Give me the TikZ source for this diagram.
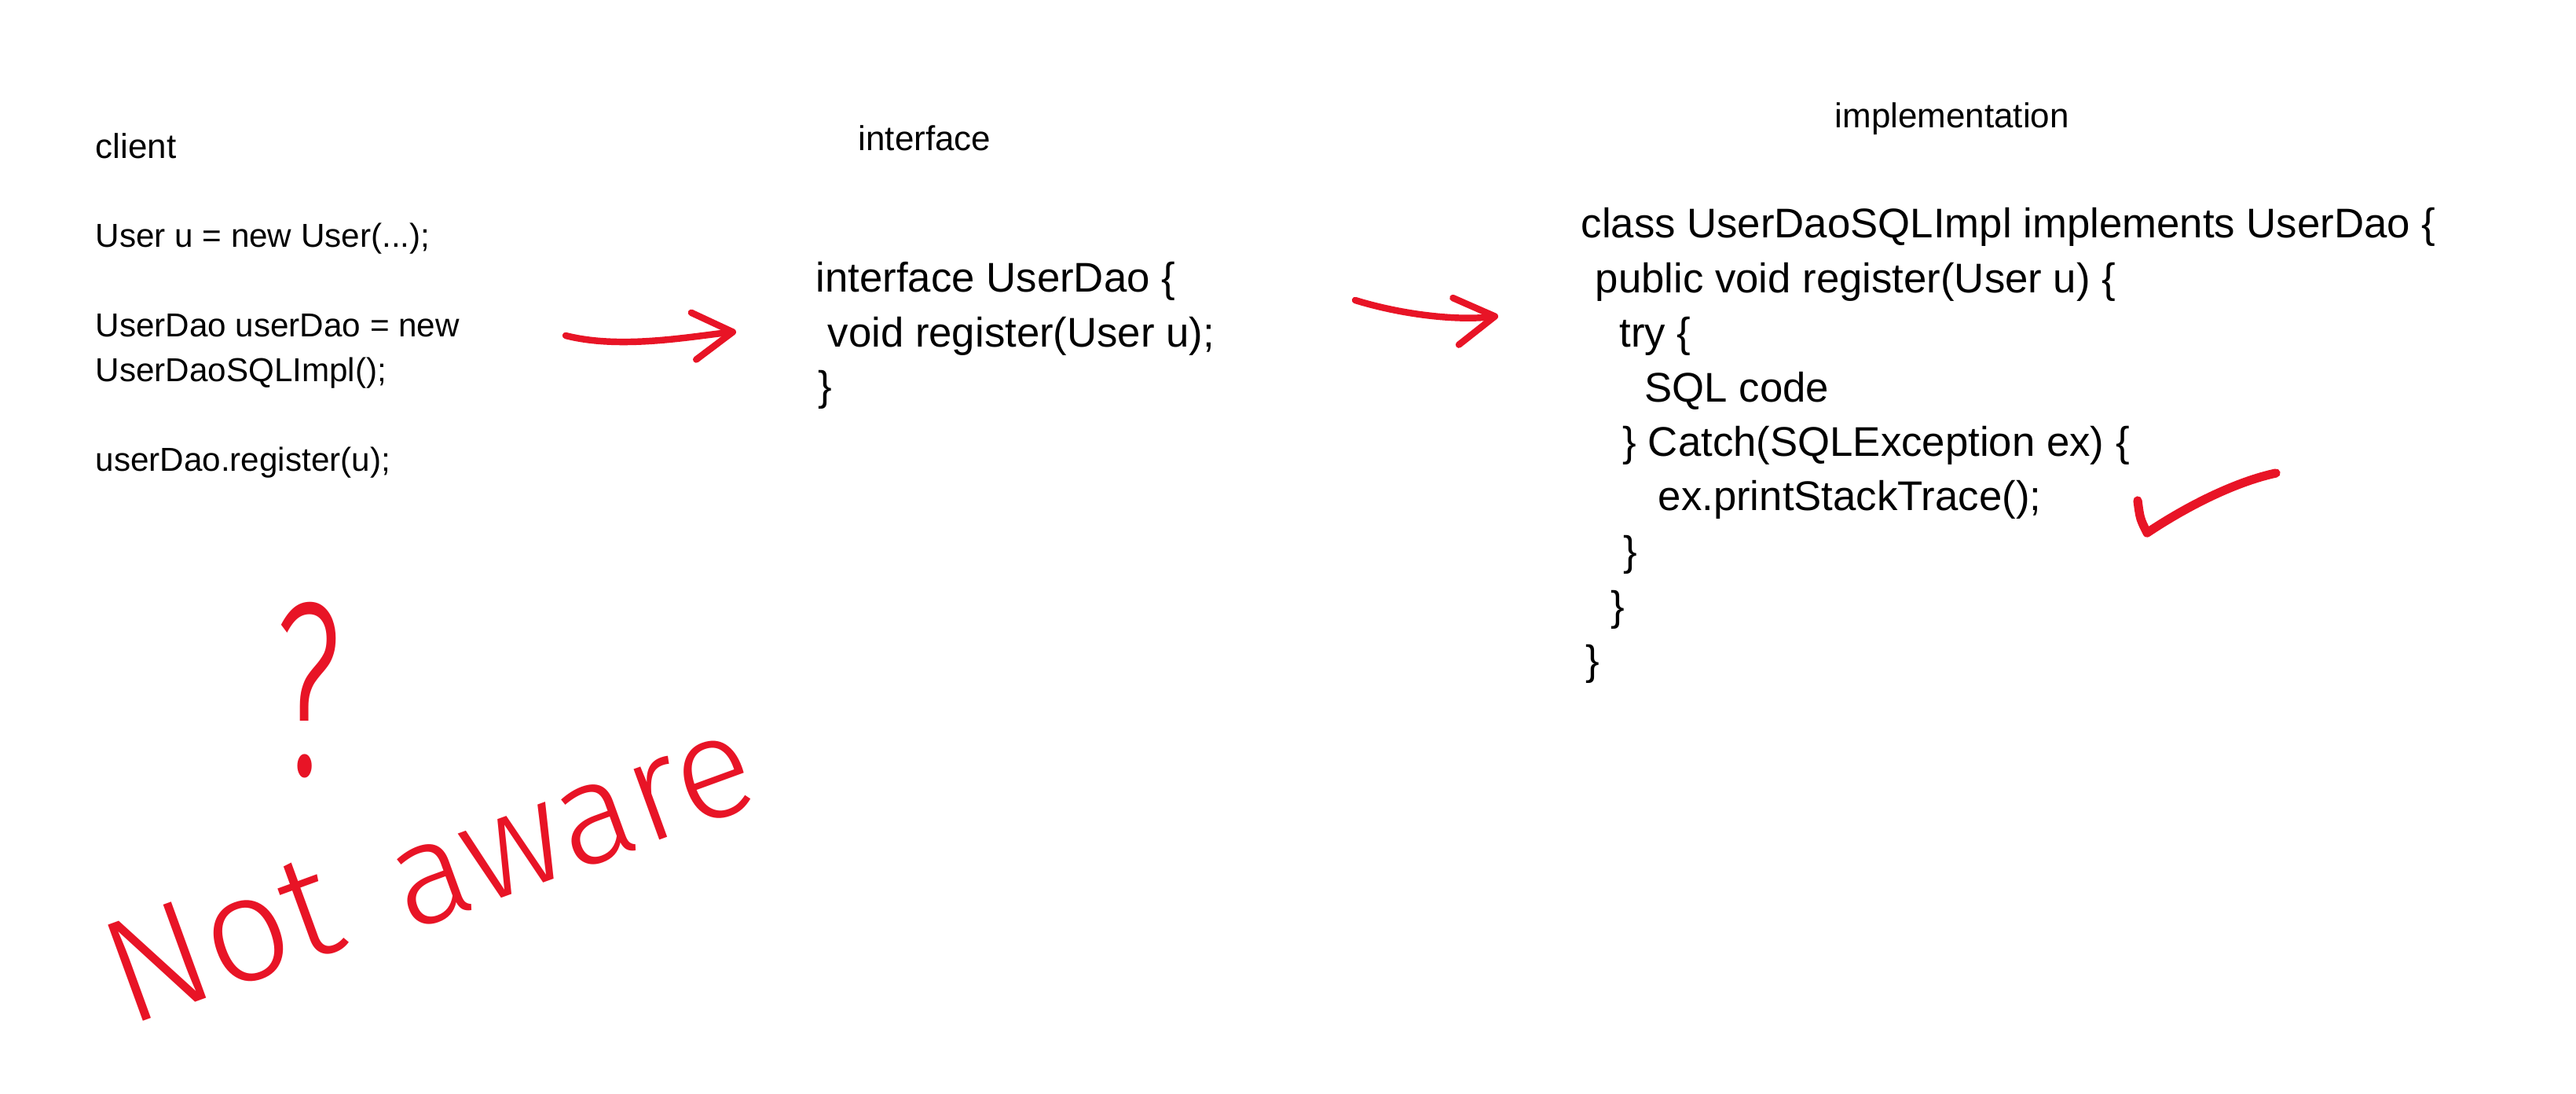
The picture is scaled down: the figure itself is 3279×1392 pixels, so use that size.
\documentclass[tikz,border=0pt]{standalone}
\usepackage{fontspec}
\setmainfont{Liberation Sans}
\newfontfamily\handfont{Fira Sans Light}
\usetikzlibrary{arrows.meta}
\definecolor{inkred}{RGB}{232,20,38}
\begin{document}
\begin{tikzpicture}[x=0.01cm,y=-0.01cm,
  codetext/.style={anchor=base west,inner sep=0pt,font=\fontsize{15}{18}\selectfont},
  clienttext/.style={anchor=base west,inner sep=0pt,font=\fontsize{12}{14}\selectfont},
  headtext/.style={anchor=base west,inner sep=0pt,font=\fontsize{12.5}{15}\selectfont},
  ink/.style={draw=inkred,line width=2.4pt,line cap=round,line join=round},
  handarrow/.style={ink,-{Straight Barb[length=0.5cm,width=0.6cm,line cap=round,line join=round]}},
  handtext/.style={text=inkred,inner sep=0pt}]
\fill[white] (0,0) rectangle (3279,1392);
\useasboundingbox (0,0) rectangle (3279,1392);

% client column
\node[headtext]   (client) at (121,202) {client};
\node[clienttext] (cl1) at (121,315) {User u = new User(...);};
\node[clienttext] (cl2) at (121,429) {UserDao userDao = new};
\node[clienttext] (cl3) at (121,486) {UserDaoSQLImpl();};
\node[clienttext] (cl4) at (121,600) {userDao.register(u);};

% interface column
\node[headtext] (iface) at (1092,192) {interface};
\node[codetext] (if1) at (1038,372) {interface UserDao \{};
\node[codetext] (if2) at (1053,442) {void register(User u);};
\node[codetext] (if3) at (1041,510) {\}};

% implementation column
\node[headtext] (impl) at (2335,163) {implementation};
\node[codetext] (im1) at (2012,303) {class UserDaoSQLImpl implements UserDao \{};
\node[codetext] (im2) at (2030,373) {public void register(User u) \{};
\node[codetext] (im3) at (2061,442) {try \{};
\node[codetext] (im4) at (2093,512) {SQL code};
\node[codetext] (im5) at (2065,581) {\} Catch(SQLException ex) \{};
\node[codetext] (im6) at (2110,650) {ex.printStackTrace();};
\node[codetext] (im7) at (2066,720) {\}};
\node[codetext] (im8) at (2050,790) {\}};
\node[codetext] (im9) at (2018,859) {\}};

% hand-drawn arrows
\coordinate (a1s) at (720,427);
\coordinate (a1e) at (937,422);
\coordinate (a2s) at (1725,382);
\coordinate (a2e) at (1907,402);
\draw[handarrow] (a1s) .. controls (790,445) and (880,428) .. (a1e);
\draw[handarrow] (a2s) .. controls (1790,402) and (1860,408) .. (a2e);

% check mark
\draw[ink,line width=3.2pt] (2721,637) .. controls (2724,660) .. (2733,678)
  .. controls (2790,640) and (2850,612) .. (2897,602);

% handwritten remarks
\node[handtext,font=\handfont\fontsize{90}{90}\selectfont,xscale=0.6] (qmark) at (393,878) {?};
\node[handtext,font=\handfont\fontsize{54}{54}\selectfont,rotate=20] (nott) at (282,1195) {Not};
\node[handtext,font=\handfont\fontsize{52}{52}\selectfont,rotate=20] (awarew) at (730,1058) {aware};
\end{tikzpicture}
\end{document}
